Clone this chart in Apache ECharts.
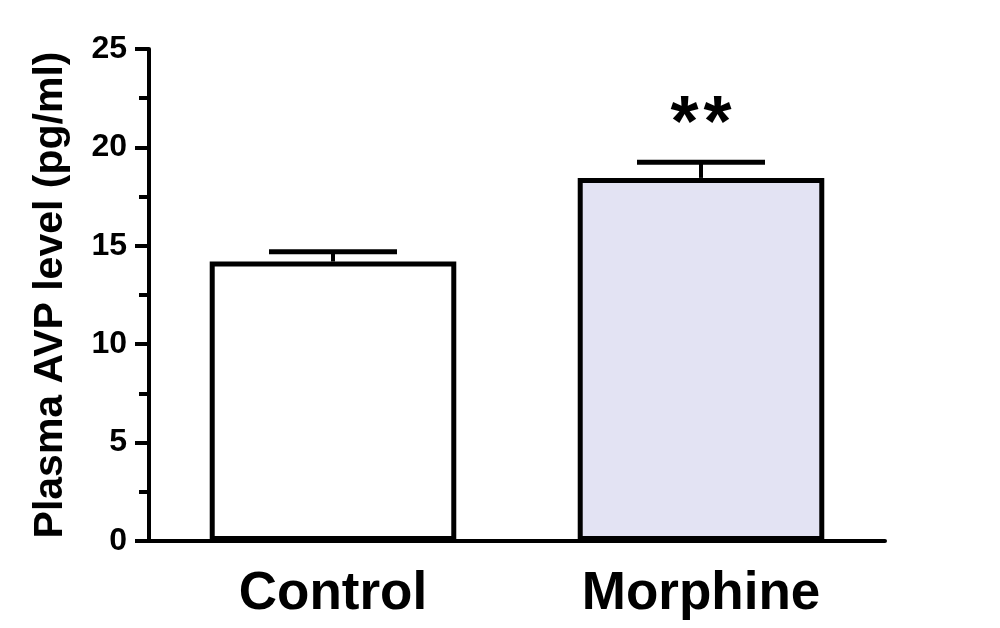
<!DOCTYPE html>
<html>
<head>
<meta charset="utf-8">
<script src="https://cdn.jsdelivr.net/npm/echarts@6/dist/echarts.min.js"></script>
<style>
html,body{margin:0;padding:0;background:#fff;}
#chart{width:1000px;height:628px;}
</style>
</head>
<body>
<div id="chart"></div>
<script>
var categories = ['Control', 'Morphine'];
var means = [14.2, 18.45];
var errors = [0.5, 0.8];
var significance = ['', '**'];
var barColors = ['#ffffff', '#e3e3f3'];
var yTicks = [0, 5, 10, 15, 20, 25];

var FONT = '"Liberation Sans", Arial, sans-serif';
var chart = echarts.init(document.getElementById('chart'), null, {renderer: 'canvas'});

var option = {
  backgroundColor: '#ffffff',
  animation: false,
  grid: {left: 149, right: 115, top: 49, bottom: 87, containLabel: false},
  xAxis: {
    type: 'category',
    data: categories,
    axisLine: {lineStyle: {color: '#000', width: 4}},
    axisTick: {show: false},
    axisLabel: {color: '#000', fontFamily: FONT, fontWeight: 'bold', fontSize: 53, margin: 27}
  },
  yAxis: {
    type: 'value',
    min: yTicks[0],
    max: yTicks[yTicks.length - 1],
    interval: 5,
    name: 'Plasma AVP level (pg/ml)',
    nameLocation: 'middle',
    nameGap: 78,
    nameTextStyle: {color: '#000', fontFamily: FONT, fontWeight: 'bold', fontSize: 41},
    axisLine: {show: true, lineStyle: {color: '#000', width: 4}},
    axisTick: {show: true, length: 14, lineStyle: {color: '#000', width: 4}},
    minorTick: {show: true, splitNumber: 2, length: 10, lineStyle: {color: '#000', width: 4}},
    splitLine: {show: false},
    axisLabel: {color: '#000', fontFamily: FONT, fontWeight: 'bold', fontSize: 32, margin: 22}
  },
  series: [
    {
      type: 'bar',
      barWidth: '67%',
      data: means.map(function (v, i) {
        return {value: v, itemStyle: {color: barColors[i]}};
      }),
      itemStyle: {borderColor: '#000', borderWidth: 5},
      z: 2
    },
    {
      type: 'custom',
      z: 3,
      data: means.map(function (v, i) { return [i, v, v + errors[i]]; }),
      renderItem: function (params, api) {
        var x = api.coord([api.value(0), 0])[0];
        var yLow = api.coord([api.value(0), api.value(1)])[1];
        var yHigh = api.coord([api.value(0), api.value(2)])[1];
        var half = 64;
        var children = [
          {type: 'line', shape: {x1: x, y1: yLow, x2: x, y2: yHigh},
           style: {stroke: '#000', lineWidth: 4}},
          {type: 'line', shape: {x1: x - half, y1: yHigh, x2: x + half, y2: yHigh},
           style: {stroke: '#000', lineWidth: 5}}
        ];
        var sig = significance[params.dataIndex];
        if (sig) {
          for (var k = 0; k < sig.length; k++) {
            children.push({
              type: 'text',
              style: {
                text: sig[k],
                x: x + (k - (sig.length - 1) / 2) * 33,
                y: yHigh - 36,
                fill: '#000',
                font: 'bold 72px ' + FONT,
                textAlign: 'center',
                textVerticalAlign: 'middle'
              }
            });
          }
        }
        return {type: 'group', children: children};
      }
    }
  ]
};
chart.setOption(option);
</script>
</body>
</html>
